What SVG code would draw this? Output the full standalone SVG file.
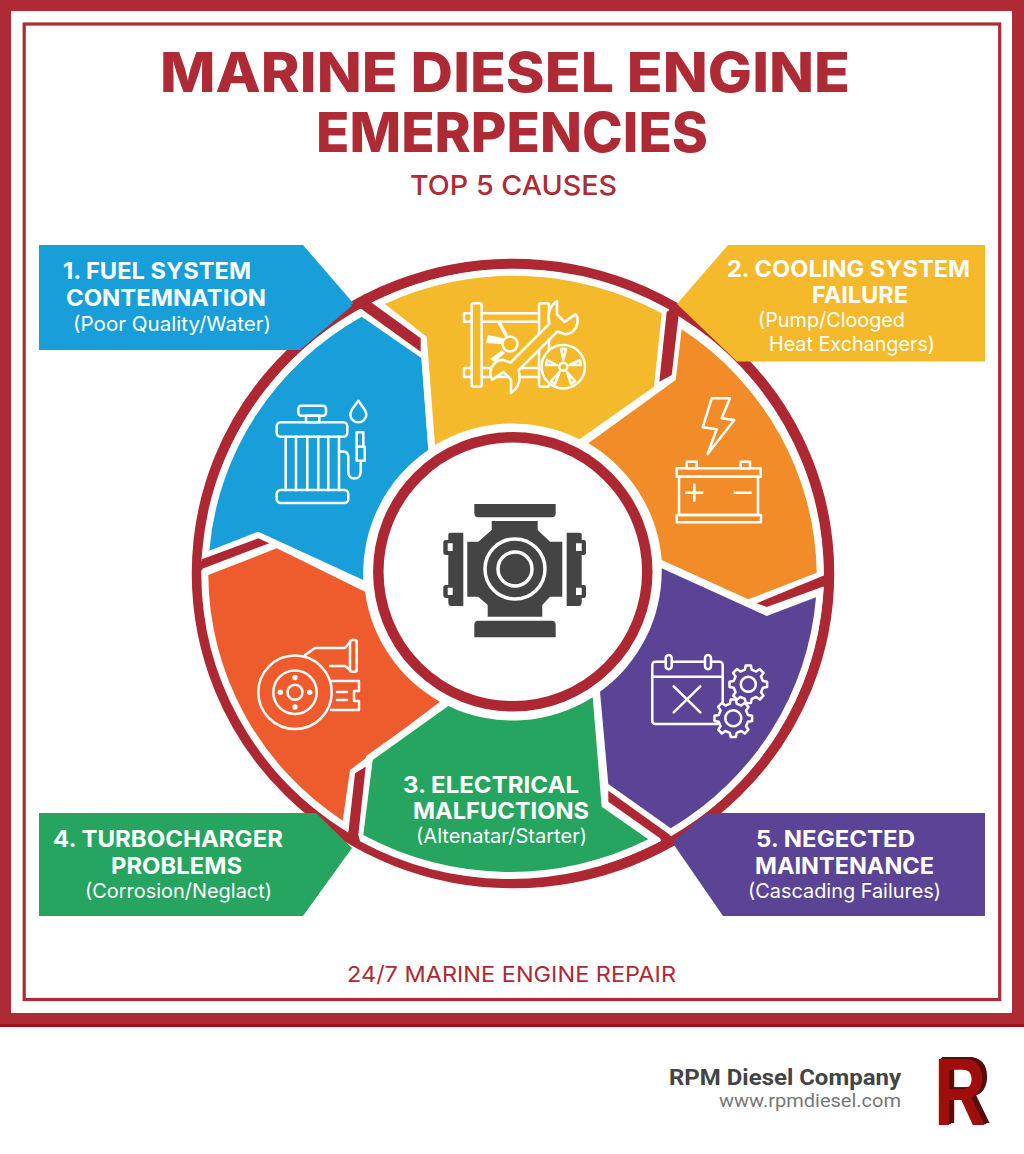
<svg xmlns="http://www.w3.org/2000/svg" xmlns:xlink="http://www.w3.org/1999/xlink" width="1024" height="1154" viewBox="0 0 1024 1154">
<style>
.t{font-family:"Inter","Liberation Sans",sans-serif;fill:#ae2a35}
.h{font-family:"Inter","Liberation Sans",sans-serif;font-weight:700;font-size:23px;fill:#fff}
.s{font-family:"Inter","Liberation Sans",sans-serif;font-weight:400;font-size:20px;fill:#fff}
.seg{stroke:#fff;stroke-width:14;stroke-linejoin:miter;paint-order:stroke}
.ic{fill:none;stroke:#fff;stroke-width:2.5;stroke-linejoin:round;stroke-linecap:round}
.notch{fill:#ad2833}
.blade{fill:#fff}
</style>
<defs>
<path id="gear" d="M14.6,-3.4L18.8,-2.6L18.8,2.6L14.6,3.4L12.7,7.9L15.2,11.4L11.4,15.2L7.9,12.7L3.4,14.6L2.6,18.8L-2.6,18.8L-3.4,14.6L-7.9,12.7L-11.4,15.2L-15.2,11.4L-12.7,7.9L-14.6,3.4L-18.8,2.6L-18.8,-2.6L-14.6,-3.4L-12.7,-7.9L-15.2,-11.4L-11.4,-15.2L-7.9,-12.7L-3.4,-14.6L-2.6,-18.8L2.6,-18.8L3.4,-14.6L7.9,-12.7L11.4,-15.2L15.2,-11.4L12.7,-7.9Z"/>
<filter id="extrude" x="-20%" y="-20%" width="140%" height="140%">
<feFlood flood-color="#560707" result="c"/>
<feOffset in="SourceAlpha" dx="1.5" dy="-0.8" result="a"/>
<feOffset in="SourceAlpha" dx="3" dy="-1.6" result="b"/>
<feOffset in="SourceAlpha" dx="4.5" dy="-2.4" result="d"/>
<feMerge result="m"><feMergeNode in="a"/><feMergeNode in="b"/><feMergeNode in="d"/></feMerge>
<feComposite in="c" in2="m" operator="in" result="e"/>
<feMerge><feMergeNode in="e"/><feMergeNode in="SourceGraphic"/></feMerge>
</filter>
</defs>
<rect width="1024" height="1154" fill="#fff"/>
<g id="frame">
<path fill="#ae2a35" d="M0,0H1024V1024H0ZM11,11V1013H1012V11Z" fill-rule="evenodd"/>
<rect y="1024" width="1024" height="3" fill="#a30f1c"/>
<rect x="24.200" y="24" width="975.500" height="975.500" fill="none" stroke="#ae2a35" stroke-width="3.200"/>
</g>
<g id="title">
<text class="t" x="160" y="92" font-size="55" font-weight="800" textLength="690" lengthAdjust="spacingAndGlyphs">MARINE DIESEL ENGINE</text>
<text class="t" x="316" y="152" font-size="55" font-weight="800" textLength="392" lengthAdjust="spacingAndGlyphs">EMERPENCIES</text>
<text class="t" x="410" y="195" font-size="27.500" font-weight="500" textLength="207" lengthAdjust="spacingAndGlyphs">TOP 5 CAUSES</text>
</g>
<ellipse id="outer-ring" cx="513" cy="573.500" rx="316" ry="309.500" fill="none" stroke="#ad2833" stroke-width="10.500"/>
<g id="callout-1">
<path fill="#189fda" d="M39,245H303L354,304L300,350H39Z"/>
<text class="h" x="63" y="279" textLength="188" lengthAdjust="spacingAndGlyphs">1. FUEL SYSTEM</text>
<text class="h" x="66" y="306" textLength="200" lengthAdjust="spacingAndGlyphs">CONTEMNATION</text>
<text class="s" x="73" y="331" textLength="198" lengthAdjust="spacingAndGlyphs">(Poor Quality/Water)</text>
</g>
<g id="callout-2">
<path fill="#f5b92c" d="M985,245H728L677,304L737,361.500H985Z"/>
<text class="h" x="727" y="277" textLength="243" lengthAdjust="spacingAndGlyphs">2. COOLING SYSTEM</text>
<text class="h" x="812" y="303" textLength="96" lengthAdjust="spacingAndGlyphs">FAILURE</text>
<text class="s" x="758" y="327" textLength="147" lengthAdjust="spacingAndGlyphs">(Pump/Clooged</text>
<text class="s" x="769" y="351" textLength="166" lengthAdjust="spacingAndGlyphs">Heat Exchangers)</text>
</g>
<g id="callout-4">
<path fill="#25a55f" d="M39,813H316L352,848L303,916H39Z"/>
<text class="h" x="53" y="847" textLength="230" lengthAdjust="spacingAndGlyphs">4. TURBOCHARGER</text>
<text class="h" x="111" y="874" textLength="131" lengthAdjust="spacingAndGlyphs">PROBLEMS</text>
<text class="s" x="85" y="898" textLength="187" lengthAdjust="spacingAndGlyphs">(Corrosion/Neglact)</text>
</g>
<g id="callout-5">
<path fill="#5b4495" d="M985,813H707L672,842L723,916H985Z"/>
<text class="h" x="756" y="847" textLength="159" lengthAdjust="spacingAndGlyphs">5. NEGECTED</text>
<text class="h" x="755" y="874" textLength="179" lengthAdjust="spacingAndGlyphs">MAINTENANCE</text>
<text class="s" x="748" y="897.500" textLength="193" lengthAdjust="spacingAndGlyphs">(Cascading Failures)</text>
</g>
<g id="segment-fuel">
<path class="seg" fill="#189fda" d="M361.700,316.700L421.700,358.300L428.300,450A149,149 0 0 0 363.300,580L258.300,531.700L209.300,550.700A304,298 0 0 1 361.700,316.700Z"/>
<g class="ic">
<rect x="298.300" y="405.700" width="27.700" height="10" rx="3"/>
<rect x="306" y="415.700" width="13.300" height="6.500"/>
<rect x="276.700" y="422.300" width="70.600" height="14.400" rx="4"/>
<rect x="276.700" y="490" width="71.600" height="13" rx="4"/>
<path d="M285.700,436.700V490M296,436.700V490M307.300,436.700V490M318.300,436.700V490M328.300,436.700V490M339,436.700V490"/>
<path d="M358.300,400.700C355,406 350.300,410 350.300,414.500C350.300,419 354,422.300 358.300,422.300C362.600,422.300 366.300,419 366.300,414.500C366.300,410 361.600,406 358.300,400.700Z"/>
<path d="M339,451.500H343C346.500,451.500 348.300,453.500 348.300,457V472C348.300,476 351,478.500 354.500,478.500C358,478.500 360.700,476 360.700,472V461"/>
<rect x="356.700" y="432.300" width="6.600" height="14.400"/>
<rect x="356.700" y="446.700" width="8" height="14"/>
</g>
</g>
<g id="segment-cooling">
<path class="seg" fill="#f5b92c" d="M385,304A304,298 0 0 1 661.700,313.300L654,386.700L579.300,439.300A149,149 0 0 0 435,445L426.700,336.700Z"/>
<g class="ic">
<rect x="471.700" y="303.300" width="10" height="83.400" rx="2"/>
<rect x="539" y="303.300" width="10" height="83.400" rx="2"/>
<path d="M471.700,313.300H464V321.700H471.700M471.700,368H464V377H471.700M481.700,313.300H539M481.700,321.700H539M481.700,368H539M481.700,377H539"/>
<circle cx="510" cy="344" r="7.500"/>
</g>
<g class="blade">
<path d="M503,338L488,335L486,343L501,344Z"/>
<path d="M505,337L497,322L500,320L508,335Z" opacity=".9"/>
<path d="M502,350L490,359L495,362L505,353Z"/>
</g>
<path fill="#f5b92c" stroke="#fff" stroke-width="2.100" stroke-linejoin="round" transform="translate(534,347) rotate(-45) scale(1.250)" d="M-22,-4.500H22C25,-10 30,-14.500 39,-13L31.500,-5.500V3L42,5C41,12 31,16 25,10.500L22,4.500H-22C-25,10 -30,14.500 -39,13L-31.500,5.500V-3L-42,-5C-41,-12 -31,-16 -25,-10.500Z"/>
<circle cx="563.300" cy="366.700" r="21.700" fill="#f5b92c" stroke="#fff" stroke-width="2.500"/>
<g class="ic">
<circle cx="563.300" cy="366.700" r="4"/>
<path d="M563.300,360L561,349H566ZM569.500,365L580,360L581,365ZM567,372L575,381L571,384ZM559.500,372L555,384L551,381ZM557,365L546,365L547,360Z"/>
</g>
</g>
<g id="segment-electrical">
<path class="seg" fill="#f28c28" d="M681.700,329.300A304,298 0 0 1 816.700,572.700L748.300,599.300L661.700,560A149,149 0 0 0 588.300,443.300L675.700,380Z"/>
<g class="ic">
<path d="M711.700,398.300H730L721.700,418.300L734.300,420L707.700,454L716.700,429.300L702.700,427.300Z"/>
<rect x="686.700" y="461.700" width="10" height="6.600"/>
<rect x="740.700" y="461.700" width="9.300" height="6.600"/>
<rect x="676.700" y="468.300" width="84" height="8.400"/>
<rect x="679" y="476.700" width="79" height="38.300"/>
<rect x="676.700" y="515" width="84.300" height="7.300"/>
<path d="M686.300,492.700H702.300M694.300,484.700V500.700M734.700,492.700H750.700"/>
</g>
</g>
<g id="segment-maintenance">
<path class="seg" fill="#5b4495" d="M661.700,568.300L766.700,616L816,597.300A304,298 0 0 1 670.700,828.300L608.300,784L600,691.700A149,149 0 0 0 661.700,568.300Z"/>
<g class="ic">
<rect x="652.300" y="661.700" width="70.400" height="62.300" rx="3"/>
<path d="M652.300,676.700H722.700M673.700,686.300L700.300,712.300M700.300,686.300L673.700,712.300"/>
<rect x="665.700" y="655" width="6" height="14.300" rx="3" fill="#5b4495"/>
<rect x="705" y="655" width="6" height="14.300" rx="3" fill="#5b4495"/>
<use xlink:href="#gear" href="#gear" x="748.300" y="684.300" fill="#5b4495"/>
<circle cx="748.300" cy="684.300" r="7.500"/>
<use xlink:href="#gear" href="#gear" x="733.300" y="718.300" fill="#5b4495"/>
<circle cx="733.300" cy="718.300" r="8"/>
</g>
</g>
<g id="segment-turbocharger">
<path class="seg" fill="#ee5c2d" d="M208.300,575L276.700,548.300L365,591.700A149,149 0 0 0 440,701.700L350,770L342.700,820.700A304,298 0 0 1 208.300,575Z"/>
<g class="ic">
<path d="M305,655L315,648H345L350,642M350,670L345,666H330"/>
<rect x="350" y="640" width="6.700" height="31.700" rx="2"/>
<path d="M331,681H359V691H354V701H359V710H331M337,692H347M337,700H347"/>
<circle cx="295" cy="692.300" r="36.700" fill="#ee5c2d"/>
<circle cx="295" cy="692.300" r="21.700"/>
<circle cx="295" cy="692.300" r="7.500"/>
</g>
<g class="blade">
<circle cx="295" cy="677.600" r="2.700"/><circle cx="295" cy="707" r="2.700"/><circle cx="280.300" cy="692.300" r="2.700"/><circle cx="309.700" cy="692.300" r="2.700"/>
</g>
</g>
<g id="segment-alternator">
<path class="seg" fill="#25a55f" d="M592.700,697.300L601.700,806.700L648.300,839.300A304,298 0 0 1 363.300,835L372.700,760L448.300,706A149,149 0 0 0 592.700,697.300Z"/>
<text class="h" x="403" y="793" textLength="176" lengthAdjust="spacingAndGlyphs">3. ELECTRICAL</text>
<text class="h" x="413" y="819" textLength="176" lengthAdjust="spacingAndGlyphs">MALFUCTIONS</text>
<text class="s" x="416" y="843" textLength="171" lengthAdjust="spacingAndGlyphs">(Altenatar/Starter)</text>
</g>
<g id="connectors">
<path class="notch" d="M350,304.300L371.700,302.700L420.700,338.300V351.700L361.700,309.300Z"/>
<path class="notch" d="M678.300,305L666.700,311.700L659.300,381.700L671.700,375L678.300,318Z"/>
<path class="notch" d="M825,575L756.700,603.300L766.700,607L825,586Z"/>
<path class="notch" d="M608.300,790.700V801.700L660,838.300L664,847L675.700,841.700L670,835Z"/>
<path class="notch" d="M365.700,766.700L355,773.300L347.300,841.700L362,848L358.300,835Z"/>
<path class="notch" d="M201.700,559.300V569L269.300,543.300L258.300,538.300Z"/>
</g>
<g id="hub">
<circle cx="512.800" cy="571.800" r="134.500" fill="#fff" stroke="#ad2833" stroke-width="10.500"/>
<g fill="#444">
<path d="M474.300,504H555.700V513C555.700,516 554,517.300 552,517.300H478C476,517.300 474.300,516 474.300,513Z"/>
<path d="M491.700,521H537.700V530L550,541.700H562.300V596.700H550L542.300,605V616.700H487.700V605L478.300,596.700H467.300V541.700H478.300L491.700,530Z"/>
<path d="M474.300,637.300H555.700V625C555.700,622 554,620.700 552,620.700H478C476,620.700 474.300,622 474.300,625Z"/>
<path fill-rule="evenodd" d="M451,532.700H463.300V606H451C449,606 448.300,604 448.300,602V598H446C444,598 443.300,596.500 443.300,595V588C443.300,586 444,585 446,585H448.300V555H446C444,555 443.300,554 443.300,552V543C443.300,541 444,540 446,540H448.300V535C448.300,533.500 449,532.700 451,532.700ZM447.700,543.300V551H452.700V543.300ZM447.700,587.700V595H452.700V587.700Z"/>
<path fill-rule="evenodd" d="M579,532.700H566.700V606H579C581,606 581.700,604 581.700,602V598H584C585.500,598 586,596.500 586,595V588C586,586 585.500,585 584,585H581.700V555H584C585.500,555 586,554 586,552V543C586,541 585.500,540 584,540H581.700V535C581.700,533.500 581,532.700 579,532.700ZM576,543.300V551H581.700V543.300ZM576,587.700V595H581.700V587.700Z"/>
</g>
<circle cx="515" cy="569" r="30" fill="none" stroke="#fff" stroke-width="3.500"/>
<circle cx="515" cy="569" r="17" fill="none" stroke="#fff" stroke-width="3.500"/>
</g>
<text id="footer-line" class="t" x="347" y="982" font-size="22" font-weight="400" textLength="329" lengthAdjust="spacingAndGlyphs">24/7 MARINE ENGINE REPAIR</text>
<g id="brand">
<text x="669" y="1085" font-family="Roboto,'Liberation Sans',sans-serif" font-weight="700" font-size="22" fill="#444" textLength="232" lengthAdjust="spacingAndGlyphs">RPM Diesel Company</text>
<text x="719" y="1107" font-family="Roboto,'Liberation Sans',sans-serif" font-weight="400" font-size="19" fill="#777" textLength="182" lengthAdjust="spacingAndGlyphs">www.rpmdiesel.com</text>
<text x="934" y="1125" font-family="'Liberation Sans',Roboto,sans-serif" font-weight="700" font-size="96" fill="#a00d0d" filter="url(#extrude)" textLength="52" lengthAdjust="spacingAndGlyphs">R</text>
</g>
</svg>
